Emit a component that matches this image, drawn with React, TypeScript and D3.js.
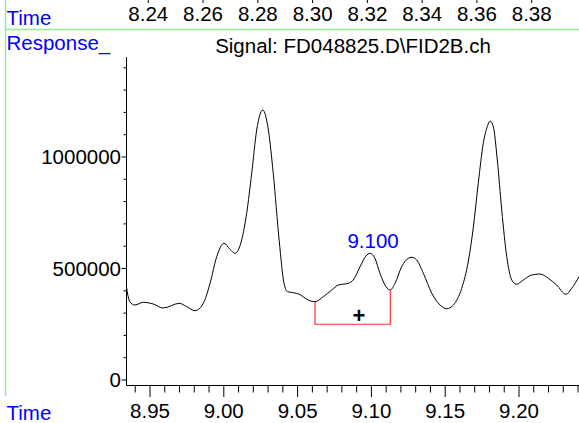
import React from "react";
import * as d3 from "d3";

const times = [
  8.9341, 8.9351, 8.9364, 8.9398, 8.9455, 8.9522, 8.959, 8.9699, 8.9749, 8.9805,
  8.9861, 8.9907, 8.9952, 9.0001, 9.0042, 9.0076, 9.0121, 9.0155, 9.0189, 9.0223,
  9.0264, 9.0302, 9.0335, 9.0376, 9.0408, 9.0432, 9.0471, 9.0516, 9.0562, 9.0618,
  9.0674, 9.0731, 9.0776, 9.0843, 9.0877, 9.0923, 9.0963, 9.0991, 9.1024, 9.1058,
  9.1099, 9.1128, 9.116, 9.1205, 9.125, 9.1273, 9.1307, 9.1352, 9.1409, 9.1465,
  9.151, 9.1555, 9.1612, 9.1657, 9.169, 9.1724, 9.1758, 9.1785, 9.1804, 9.1826,
  9.1853, 9.1883, 9.1917, 9.1951, 9.1984, 9.2029, 9.2086, 9.2142, 9.2199, 9.2255,
  9.2318, 9.2357, 9.2407,
];
const responses = [
  417000, 376700, 349800, 336300, 348400, 340800, 322900, 343900, 328700, 310800,
  343900, 433600, 552900, 613000, 586100, 568200, 627800, 747500, 926900, 1121100,
  1210800, 1121100, 926900, 620000, 433600, 396000, 391500, 383400, 361900, 351100,
  373500, 403600, 426000, 433600, 448400, 508100, 556000, 568200, 545700, 478500,
  418400, 403600, 433600, 508100, 545700, 550200, 538100, 478500, 388800, 336300,
  319700, 336300, 411200, 533600, 681600, 882100, 1061400, 1135900, 1161400, 1135900,
  986500, 762300, 552900, 448400, 429100, 448400, 470800, 475300, 456100, 426000,
  384300, 411200, 463200,
];

const bottomMajorTicks = [8.95, 9.0, 9.05, 9.1, 9.15, 9.2];
const bottomMinorTicks = [8.94, 8.96, 8.97, 8.98, 8.99, 9.01, 9.02, 9.03, 9.04, 9.06, 9.07, 9.08, 9.09, 9.11, 9.12, 9.13, 9.14, 9.16, 9.17, 9.18, 9.19, 9.21, 9.22, 9.23, 9.24];
const topTicks = [8.24, 8.26, 8.28, 8.3, 8.32, 8.34, 8.36, 8.38];
const yMajorTicks = [0, 500000, 1000000];
const yMinorTicks = [100000, 200000, 300000, 400000, 600000, 700000, 800000, 900000, 1100000, 1200000, 1300000, 1400000];

const peakLabel = "9.100";
const peakTime = 9.0991;
const peakValue = 568200;
const bracketStart = { t: 9.0618, v: 351100 };
const bracketEnd = { t: 9.1128, v: 403600 };
const bracketBase = 250000;
const markTime = 9.0916;
const markValue = 292000;

const title = "Signal: FD048825.D\\FID2B.ch";

export default function App() {
  const W = 579;
  const H = 423;
  const x = d3.scaleLinear().domain([8.95, 9.2]).range([150, 519]);
  const y = d3.scaleLinear().domain([0, 1000000]).range([380, 157]);
  const xTop = d3.scaleLinear().domain([8.24, 8.38]).range([148.3, 531.7]);

  const pts: [number, number][] = times.map((t, i) => [t, responses[i]]);
  const line = d3
    .line<[number, number]>()
    .x((d) => x(d[0]))
    .y((d) => y(d[1]))
    .curve(d3.curveMonotoneX);

  const font = "'Liberation Sans', Arial, Helvetica, sans-serif";
  const fs = 20.5;
  const axisY = 385.5;
  const axisX = 126.5;
  const yTop = y(1448000);

  return (
    <svg
      width={W}
      height={H}
      style={{ position: "absolute", left: 0, top: 0, background: "#fff" }}
      fontFamily={font}
    >
      <rect x={0} y={0} width={W} height={H} fill="#fff" />
      {/* green frame lines */}
      <line x1={5.5} y1={0} x2={5.5} y2={396} stroke="#90ee90" strokeWidth={1.5} />
      <line x1={5.5} y1={29.5} x2={W} y2={29.5} stroke="#90ee90" strokeWidth={1.5} />

      {/* top time axis */}
      <text x={6.5} y={25} fill="#0000ff" fontSize={fs}>Time</text>
      {topTicks.map((t) => (
        <g key={"tt" + t}>
          <line x1={xTop(t)} y1={0} x2={xTop(t)} y2={3} stroke="#000" />
          <text x={xTop(t)} y={21} textAnchor="middle" fontSize={fs} fill="#000">
            {t.toFixed(2)}
          </text>
        </g>
      ))}

      <text x={6.5} y={50} fill="#0000ff" fontSize={fs}>Response_</text>
      <text x={353} y={53} textAnchor="middle" fontSize={fs} fill="#000">{title}</text>

      {/* y axis */}
      <line x1={axisX} y1={yTop} x2={axisX} y2={axisY} stroke="#000" />
      {yMinorTicks.map((v) => (
        <line key={"ym" + v} x1={axisX - 3} y1={y(v)} x2={axisX} y2={y(v)} stroke="#000" />
      ))}
      {yMajorTicks.map((v) => (
        <g key={"yM" + v}>
          <line x1={axisX - 5} y1={y(v)} x2={axisX} y2={y(v)} stroke="#000" />
          <text x={121} y={y(v)} dy="0.36em" textAnchor="end" fontSize={fs} fill="#000">
            {v}
          </text>
        </g>
      ))}

      {/* x axis */}
      <line x1={axisX} y1={axisY} x2={W} y2={axisY} stroke="#000" />
      {bottomMinorTicks.map((t) => (
        <line key={"xm" + t} x1={x(t)} y1={axisY} x2={x(t)} y2={axisY + 7} stroke="#000" />
      ))}
      {bottomMajorTicks.map((t) => (
        <g key={"xM" + t}>
          <line x1={x(t)} y1={axisY} x2={x(t)} y2={axisY + 11.5} stroke="#000" />
          <text x={x(t)} y={418} textAnchor="middle" fontSize={fs} fill="#000">
            {t.toFixed(2)}
          </text>
        </g>
      ))}
      <text x={6.5} y={420} fill="#0000ff" fontSize={fs}>Time</text>

      {/* signal */}
      <path d={line(pts) || ""} fill="none" stroke="#000" strokeWidth={1} />

      {/* integration bracket */}
      <path
        d={`M${x(bracketStart.t)},${y(bracketStart.v)}V${y(bracketBase)}H${x(bracketEnd.t)}V${y(bracketEnd.v)}`}
        fill="none"
        stroke="#ff3030"
        strokeWidth={1.2}
      />
      <text x={x(markTime)} y={y(markValue)} dy="0.36em" textAnchor="middle" fontSize={22} fontWeight="bold" fill="#000">+</text>

      <text x={x(peakTime) + 3} y={y(peakValue) - 5} textAnchor="middle" fontSize={20.5} fill="#0000ff">
        {peakLabel}
      </text>
    </svg>
  );
}
